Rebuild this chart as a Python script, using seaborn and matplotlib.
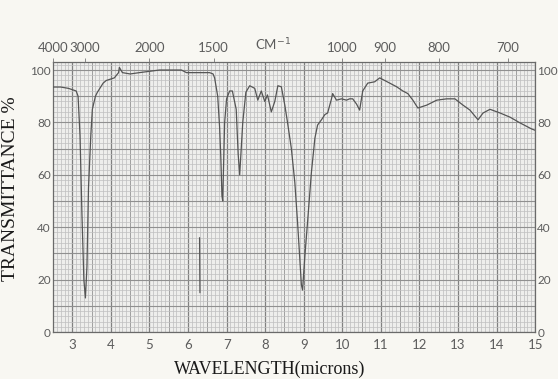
import numpy as np
import pandas as pd
import matplotlib
matplotlib.use("Agg")
import matplotlib.pyplot as plt
import seaborn as sns

# Infrared transmittance spectrum (wavelength in microns, transmittance in %)
wavelength_um = [
    2.50, 2.70, 2.90, 3.00, 3.10, 3.15, 3.20, 3.25, 3.30, 3.34, 3.38, 3.42,
    3.48, 3.52, 3.60, 3.65, 3.80, 3.88, 4.09, 4.20, 4.22, 4.30, 4.50, 4.74,
    5.00, 5.26, 5.60, 5.83, 5.96, 6.30, 6.56, 6.65, 6.69, 6.77, 6.82, 6.85,
    6.88, 6.90, 6.95, 7.00, 7.08, 7.15, 7.25, 7.30, 7.34, 7.42, 7.50, 7.60,
    7.73, 7.81, 7.90, 7.99, 8.06, 8.16, 8.25, 8.33, 8.42, 8.51, 8.58, 8.68,
    8.77, 8.84, 8.94, 8.97, 9.03, 9.10, 9.20, 9.29, 9.36, 9.46, 9.55, 9.62,
    9.72, 9.75, 9.85, 9.98, 10.11, 10.19, 10.27, 10.37, 10.45, 10.53, 10.66,
    10.84, 10.97, 11.10, 11.23, 11.41, 11.57, 11.70, 11.83, 11.96, 12.19,
    12.45, 12.71, 12.92, 13.13, 13.31, 13.52, 13.65, 13.83, 14.09, 14.35,
    14.61, 14.91, 15.00,
]
transmittance = [
    93.5, 93.5, 93.0, 92.5, 92.0, 90.0, 75.0, 45.0, 20.0, 13.0, 25.0, 55.0,
    75.0, 85.0, 90.0, 91.5, 95.0, 96.0, 97.0, 99.0, 101.0, 99.0, 98.5, 99.0,
    99.5, 100.0, 100.0, 100.0, 99.0, 99.0, 99.0, 98.5, 97.0, 90.0, 78.0, 67.0,
    52.0, 50.0, 80.0, 89.0, 92.0, 92.0, 85.0, 68.0, 60.0, 80.0, 91.5, 94.0,
    93.0, 88.5, 92.0, 88.0, 90.5, 84.0, 88.0, 94.0, 93.6, 86.6, 80.0, 70.0,
    57.0, 42.0, 18.0, 16.0, 29.0, 42.0, 61.0, 74.0, 79.0, 81.0, 83.0, 83.6,
    89.0, 91.0, 88.5, 89.0, 88.5, 89.0, 89.0, 87.0, 84.7, 92.0, 95.0,
    95.5, 97.0, 96.0, 95.0, 93.6, 92.0, 91.0, 88.5, 85.5, 86.6,
    88.5, 89.0, 89.0, 86.6, 84.7, 81.0, 83.6, 85.0, 83.6, 82.0,
    79.8, 77.5, 77.0,
]

# Faint fast-pen trace of the sharp 6.3 micron band
band_um = [6.30, 6.31]
band_t = [36.0, 15.0]

# Axis labelling
micron_ticks = [3, 4, 5, 6, 7, 8, 9, 10, 11, 12, 13, 14, 15]
percent_ticks = [0, 20, 40, 60, 80, 100]
wavenumber_ticks = [4000, 3000, 2000, 1500, 1000, 900, 800, 700]

spectrum = pd.DataFrame({"wavelength": wavelength_um, "T": transmittance})
band = pd.DataFrame({"wavelength": band_um, "T": band_t})

sns.set_theme(style="white")
plt.rcParams["font.family"] = ["DejaVu Sans"]
tick_font = ["Lato", "DejaVu Sans"]

fig = plt.figure(figsize=(5.58, 3.79), dpi=100, facecolor="#f8f7f2")
ax = fig.add_axes([0.095, 0.124, 0.864, 0.712])
ax.set_facecolor("#eeeeec")

# Chart-paper grid
for x in np.arange(2.5, 15.0001, 0.1):
    ax.axvline(x, color="#bdbdbd", lw=0.5, zorder=0)
for x in np.arange(3, 15.5, 0.5):
    ax.axvline(x, color="#a0a0a0", lw=0.7, zorder=0)
for x in micron_ticks:
    ax.axvline(x, color="#808080", lw=0.9, zorder=0)
for y in np.arange(0, 103, 2):
    ax.axhline(y, color="#c0c0c0", lw=0.5, zorder=0)
for y in np.arange(0, 101, 10):
    ax.axhline(y, color="#909090", lw=0.8, zorder=0)

sns.lineplot(data=spectrum, x="wavelength", y="T", ax=ax, color="#555555",
             lw=0.9, zorder=3, legend=False)
sns.lineplot(data=band, x="wavelength", y="T", ax=ax, color="#555555",
             lw=0.9, zorder=3, legend=False, sort=False)

ax.set_xlim(2.5, 15.0)
ax.set_ylim(0, 103)

tick_color = "#5c5c5c"
ax.set_xticks(micron_ticks)
ax.set_xticklabels([str(t) for t in micron_ticks])
ax.set_yticks(percent_ticks)
ax.set_yticklabels([str(t) for t in percent_ticks])
ax.tick_params(axis="x", length=0, labelsize=9.5, labelcolor=tick_color, pad=5)
ax.tick_params(axis="y", length=0, labelsize=8.5, labelcolor=tick_color,
               labelright=True, right=False, pad=1.5)
for lab in ax.get_xticklabels() + ax.get_yticklabels():
    lab.set_fontfamily(tick_font)

for side in ["left", "right", "top", "bottom"]:
    ax.spines[side].set_color("#6a6a6a")
    ax.spines[side].set_linewidth(0.9)

# Wavenumber scale along the top
top = ax.twiny()
top.set_xlim(ax.get_xlim())
top.set_xticks([10000.0 / w for w in wavenumber_ticks])
top.set_xticklabels([str(w) for w in wavenumber_ticks])
top.tick_params(axis="x", length=3, width=0.6, color="#777777", labelsize=9.5,
                labelcolor=tick_color, pad=3)
for lab in top.get_xticklabels():
    lab.set_fontfamily(tick_font)
for side in ["left", "right", "top", "bottom"]:
    top.spines[side].set_visible(False)
top.text(8.2, 1.035, "CM$^{-1}$", transform=top.get_xaxis_transform(),
         ha="center", va="bottom", fontsize=9.5, color=tick_color,
         family=tick_font)

ax.set_xlabel("WAVELENGTH(microns)", family=["Liberation Serif"],
              fontsize=13, color="#1a1a1a")
ax.xaxis.set_label_coords(0.45, -0.105)
ax.set_ylabel("TRANSMITTANCE %", family=["Liberation Serif"],
              fontsize=14, color="#1a1a1a")
ax.yaxis.set_label_coords(-0.07, 0.53)

fig.savefig("out.png", dpi=100, facecolor=fig.get_facecolor())
